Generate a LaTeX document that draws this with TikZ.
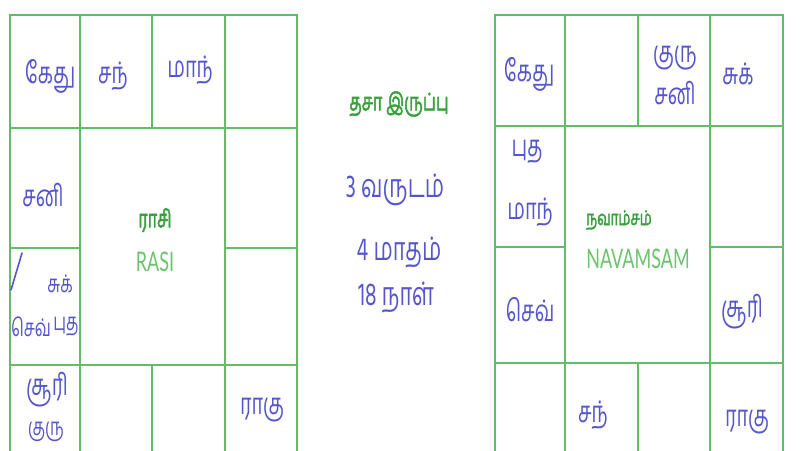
\documentclass[tikz,border=0pt]{standalone}
\usepackage{fontspec}
\usepackage{graphicx}
\setmainfont{Lato}
\newfontfamily\tamilfont[Script=Tamil]{Hind Madurai}
\newfontfamily\tamilbold[Script=Tamil,FakeBold=2.5]{Hind Madurai}
\definecolor{gridgreen}{RGB}{100,188,100}
\definecolor{pen}{RGB}{85,85,205}
\definecolor{titlegreen}{RGB}{55,160,60}
\definecolor{lightgreen}{RGB}{110,195,110}
\newcommand{\sx}[1]{\scalebox{0.9}[1.35]{#1}}
\tikzset{
  gridline/.style={draw=gridgreen, line width=2pt},
  hand/.style={text=pen, font=\tamilfont\fontsize{22}{22}\selectfont, inner sep=0pt},
  smallhand/.style={hand, font=\tamilfont\fontsize{18}{18}\selectfont},
  bighand/.style={hand, font=\tamilfont\fontsize{24}{24}\selectfont},
  chartname/.style={text=titlegreen, font=\tamilbold\fontsize{18}{18}\selectfont, inner sep=0pt},
  chartlatin/.style={text=lightgreen, font=\fontsize{20}{20}\selectfont, inner sep=0pt},
}
\begin{document}
\begin{tikzpicture}[x=1pt,y=-1pt]
\useasboundingbox (0,0) rectangle (800,450);
\fill[white] (0,0) rectangle (800,450);
\clip (0,0) rectangle (800,450);
% left chart grid
\draw[gridline] (10,15) rectangle (297,482);
\draw[gridline] (10,128) -- (297,128);
\draw[gridline] (10,365) -- (297,365);
\draw[gridline] (10,248) -- (80,248);
\draw[gridline] (225,248) -- (297,248);
\draw[gridline] (80,15) -- (80,482);
\draw[gridline] (225,15) -- (225,482);
\draw[gridline] (152,15) -- (152,128);
\draw[gridline] (152,365) -- (152,482);
% right chart grid
\draw[gridline] (495,15) rectangle (783,480);
\draw[gridline] (495,126) -- (783,126);
\draw[gridline] (495,363) -- (783,363);
\draw[gridline] (495,247) -- (565,247);
\draw[gridline] (710,247) -- (783,247);
\draw[gridline] (565,15) -- (565,480);
\draw[gridline] (710,15) -- (710,480);
\draw[gridline] (638,15) -- (638,126);
\draw[gridline] (638,363) -- (638,480);
% left chart planets
\node[hand] (lketu) at (50,76) {\sx{கேது}};
\node[hand] (lchan) at (113,76) {\sx{சந்}};
\node[hand] (lmaan) at (190,70) {\sx{மாந்}};
\node[hand] (lsani) at (43,195) {\sx{சனி}};
\node[smallhand] (lsuk) at (60,284) {\sx{சுக்}};
\coordinate (tickA) at (22,253);
\coordinate (tickB) at (11,290);
\draw[pen, line width=1.6pt, line cap=round] (tickA) -- (tickB);
\node[smallhand] (lsev) at (31,327) {\sx{செவ்}};
\node[smallhand] (lbudh) at (66,327) {\sx{புத}};
\node[hand] (lsuri) at (47,390) {\sx{சூரி}};
\node[smallhand] (lguru) at (46,432) {\sx{குரு}};
\node[hand] (lraagu) at (262,410) {\sx{ராகு}};
\node[chartname] (rasi) at (155,220) {\sx{ராசி}};
\node[chartlatin] (rasiL) at (155,262) {\sx{RASI}};
% middle
\node[chartname] (dasa) at (399,104) {\sx{தசா இருப்பு}};
\node[bighand] (yrs) at (395,190) {\sx{3 வருடம்}};
\node[bighand] (mths) at (399,252) {\sx{4 மாதம்}};
\node[bighand] (days) at (396,297) {\sx{18 நாள்}};
% right chart planets
\node[hand] (rketu) at (529,74) {\sx{கேது}};
\node[hand] (rguru) at (675,58) {\sx{குரு}};
\node[hand] (rsani) at (675,93) {\sx{சனி}};
\node[hand] (rsuk) at (738,74) {\sx{சுக்}};
\node[hand] (rbudh) at (527,152) {\sx{புத}};
\node[hand] (rmaan) at (530,212) {\sx{மாந்}};
\node[hand] (rsev) at (530,310) {\sx{செவ்}};
\node[hand] (rsuri) at (742,312) {\sx{சூரி}};
\node[hand] (rchan) at (593,415) {\sx{சந்}};
\node[hand] (rraagu) at (747,422) {\sx{ராகு}};
\node[chartname, font=\tamilbold\fontsize{15}{15}\selectfont] (navam) at (619,220) {\sx{நவாம்சம்}};
\node[chartlatin] (navamL) at (638,259) {\sx{NAVAMSAM}};
\end{tikzpicture}
\end{document}
